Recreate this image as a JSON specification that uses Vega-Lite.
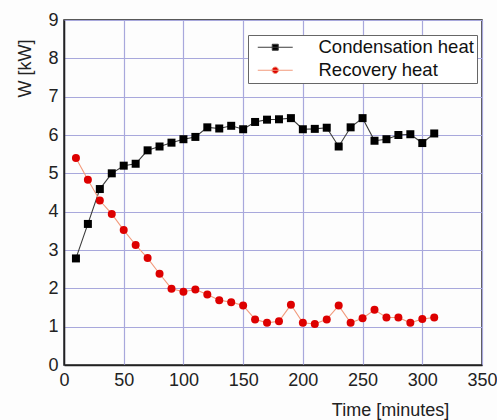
{
  "$schema": "https://vega.github.io/schema/vega-lite/v6.json",
  "width": 418,
  "height": 345,
  "autosize": {"type": "none"},
  "padding": {"left": 64, "top": 20, "right": 15, "bottom": 55},
  "background": "#fdfdfd",
  "config": {
    "font": "Liberation Sans",
    "view": {"stroke": "#222222", "strokeWidth": 1.5},
    "axis": {
      "labelFont": "Liberation Sans",
      "labelFontSize": 18,
      "labelColor": "#222222",
      "titleFont": "Liberation Sans",
      "titleFontSize": 18,
      "titleFontWeight": "normal",
      "titleColor": "#222222",
      "domainColor": "#222222",
      "domainWidth": 1.5,
      "tickColor": "#222222",
      "gridColor": "#a8a8dc",
      "gridWidth": 1.2,
      "labelFlush": false,
      "labelOverlap": false
    },
    "legend": {
      "labelFont": "Liberation Sans",
      "labelFontSize": 18.5,
      "labelColor": "#111111"
    }
  },
  "data": {
    "values": [
      {"t": 10, "series": "Condensation heat", "W": 2.78},
      {"t": 20, "series": "Condensation heat", "W": 3.68},
      {"t": 30, "series": "Condensation heat", "W": 4.59},
      {"t": 40, "series": "Condensation heat", "W": 5.0},
      {"t": 50, "series": "Condensation heat", "W": 5.2},
      {"t": 60, "series": "Condensation heat", "W": 5.25},
      {"t": 70, "series": "Condensation heat", "W": 5.6},
      {"t": 80, "series": "Condensation heat", "W": 5.7},
      {"t": 90, "series": "Condensation heat", "W": 5.8},
      {"t": 100, "series": "Condensation heat", "W": 5.89},
      {"t": 110, "series": "Condensation heat", "W": 5.95},
      {"t": 120, "series": "Condensation heat", "W": 6.2},
      {"t": 130, "series": "Condensation heat", "W": 6.17},
      {"t": 140, "series": "Condensation heat", "W": 6.24},
      {"t": 150, "series": "Condensation heat", "W": 6.15},
      {"t": 160, "series": "Condensation heat", "W": 6.34},
      {"t": 170, "series": "Condensation heat", "W": 6.4},
      {"t": 180, "series": "Condensation heat", "W": 6.41},
      {"t": 190, "series": "Condensation heat", "W": 6.44},
      {"t": 200, "series": "Condensation heat", "W": 6.15},
      {"t": 210, "series": "Condensation heat", "W": 6.16},
      {"t": 220, "series": "Condensation heat", "W": 6.19},
      {"t": 230, "series": "Condensation heat", "W": 5.7},
      {"t": 240, "series": "Condensation heat", "W": 6.2},
      {"t": 250, "series": "Condensation heat", "W": 6.44},
      {"t": 260, "series": "Condensation heat", "W": 5.85},
      {"t": 270, "series": "Condensation heat", "W": 5.89},
      {"t": 280, "series": "Condensation heat", "W": 6.0},
      {"t": 290, "series": "Condensation heat", "W": 6.02},
      {"t": 300, "series": "Condensation heat", "W": 5.79},
      {"t": 310, "series": "Condensation heat", "W": 6.04},
      {"t": 10, "series": "Recovery heat", "W": 5.4},
      {"t": 20, "series": "Recovery heat", "W": 4.83},
      {"t": 30, "series": "Recovery heat", "W": 4.29},
      {"t": 40, "series": "Recovery heat", "W": 3.94},
      {"t": 50, "series": "Recovery heat", "W": 3.52},
      {"t": 60, "series": "Recovery heat", "W": 3.13},
      {"t": 70, "series": "Recovery heat", "W": 2.79},
      {"t": 80, "series": "Recovery heat", "W": 2.38},
      {"t": 90, "series": "Recovery heat", "W": 1.99},
      {"t": 100, "series": "Recovery heat", "W": 1.91},
      {"t": 110, "series": "Recovery heat", "W": 1.97},
      {"t": 120, "series": "Recovery heat", "W": 1.84},
      {"t": 130, "series": "Recovery heat", "W": 1.69},
      {"t": 140, "series": "Recovery heat", "W": 1.64},
      {"t": 150, "series": "Recovery heat", "W": 1.55},
      {"t": 160, "series": "Recovery heat", "W": 1.19},
      {"t": 170, "series": "Recovery heat", "W": 1.1},
      {"t": 180, "series": "Recovery heat", "W": 1.14},
      {"t": 190, "series": "Recovery heat", "W": 1.57},
      {"t": 200, "series": "Recovery heat", "W": 1.1},
      {"t": 210, "series": "Recovery heat", "W": 1.07},
      {"t": 220, "series": "Recovery heat", "W": 1.19},
      {"t": 230, "series": "Recovery heat", "W": 1.55},
      {"t": 240, "series": "Recovery heat", "W": 1.1},
      {"t": 250, "series": "Recovery heat", "W": 1.22},
      {"t": 260, "series": "Recovery heat", "W": 1.44},
      {"t": 270, "series": "Recovery heat", "W": 1.24},
      {"t": 280, "series": "Recovery heat", "W": 1.24},
      {"t": 290, "series": "Recovery heat", "W": 1.1},
      {"t": 300, "series": "Recovery heat", "W": 1.2},
      {"t": 310, "series": "Recovery heat", "W": 1.24}
    ]
  },
  "encoding": {
    "x": {
      "field": "t",
      "type": "quantitative",
      "scale": {"domain": [0, 350], "nice": false},
      "axis": {
        "values": [0, 25, 50, 75, 100, 125, 150, 175, 200, 225, 250, 275, 300, 325, 350],
        "format": "d",
        "labelExpr": "datum.value % 50 == 0 ? datum.label : ''",
        "labelPadding": 6,
        "tickSize": 0,
        "gridOpacity": {"condition": {"test": "datum.value % 50 == 0", "value": 1}, "value": 0},
        "title": "Time [minutes]",
        "titleX": 326,
        "titleY": 45,
        "titleAlign": "center",
        "titleBaseline": "middle",
        "encode": {
          "ticks": {"update": {"y2": {"signal": "datum.value % 50 == 0 ? -5 : -3"}}}
        }
      }
    },
    "y": {
      "field": "W",
      "type": "quantitative",
      "scale": {"domain": [0, 9], "nice": false},
      "axis": {
        "values": [0, 0.5, 1, 1.5, 2, 2.5, 3, 3.5, 4, 4.5, 5, 5.5, 6, 6.5, 7, 7.5, 8, 8.5, 9],
        "labelExpr": "datum.value % 1 == 0 ? format(datum.value, 'd') : ''",
        "labelPadding": 6,
        "tickSize": 0,
        "gridOpacity": {"condition": {"test": "datum.value % 1 == 0", "value": 1}, "value": 0},
        "title": "W [kW]",
        "titleAngle": -90,
        "titleX": -39,
        "titleY": 48,
        "titleAlign": "center",
        "titleBaseline": "middle",
        "encode": {
          "ticks": {"update": {"x2": {"signal": "datum.value % 1 == 0 ? 5 : 3"}}}
        }
      }
    }
  },
  "layer": [
    {
      "transform": [{"filter": "datum.series == 'Condensation heat'"}],
      "mark": {"type": "line", "strokeWidth": 1.1, "color": "#3c3c3c"},
      "encoding": {}
    },
    {
      "transform": [{"filter": "datum.series == 'Recovery heat'"}],
      "mark": {"type": "line", "strokeWidth": 1.1, "color": "#f29a7c"},
      "encoding": {}
    },
    {
      "transform": [{"filter": "datum.series == 'Condensation heat'"}],
      "mark": {"type": "point", "filled": true, "size": 64, "opacity": 1, "shape": "square", "color": "#000000"},
      "encoding": {}
    },
    {
      "transform": [{"filter": "datum.series == 'Recovery heat'"}],
      "mark": {"type": "point", "filled": true, "size": 64, "opacity": 1, "shape": "circle", "color": "#dd0000"},
      "encoding": {}
    },
    {
      "mark": {"type": "point", "size": 0, "strokeWidth": 1, "fillOpacity": 1, "strokeOpacity": 1},
      "encoding": {
        "shape": {
          "field": "series",
          "type": "nominal",
          "scale": {
            "domain": ["Condensation heat", "Recovery heat"],
            "range": ["M-2.33,0H2.33M-0.4,-0.4H0.4V0.4H-0.4Z", "M-2.33,0H2.33M-0.43,0A0.43,0.43 0 1,0 0.43,0A0.43,0.43 0 1,0 -0.43,0Z"]
          },
          "legend": {
            "title": null,
            "orient": "none",
            "legendX": 184,
            "legendY": 15,
            "strokeColor": "#666666",
            "fillColor": "#ffffff",
            "padding": 3,
            "symbolSize": 225,
            "symbolStrokeWidth": 1,
            "symbolOffset": 15,
            "labelOffset": 34,
            "rowPadding": 4
          }
        },
        "fill": {
          "field": "series",
          "type": "nominal",
          "scale": {"domain": ["Condensation heat", "Recovery heat"], "range": ["#000000", "#dd0000"]}
        },
        "stroke": {
          "field": "series",
          "type": "nominal",
          "scale": {"domain": ["Condensation heat", "Recovery heat"], "range": ["#3c3c3c", "#f29a7c"]}
        }
      }
    }
  ]
}
